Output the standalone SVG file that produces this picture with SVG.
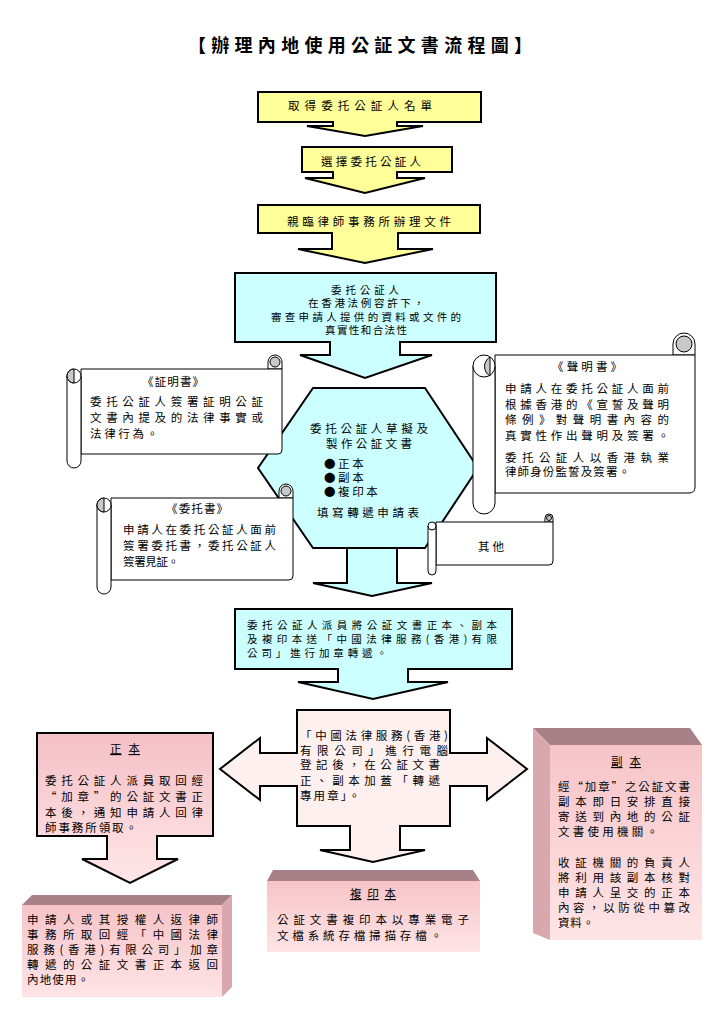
<svg xmlns="http://www.w3.org/2000/svg" width="720" height="1009" viewBox="0 0 720 1009">
<style>
text{font-family:"Noto Sans CJK TC","Noto Sans CJK SC",sans-serif;font-size:11.5px;fill:#000}
.c{text-anchor:middle}
.sm{font-size:10.5px}
.y{fill:#FFFF99;stroke:#000;stroke-width:2}
.b{fill:#CCFFFF;stroke:#000;stroke-width:2}
.p{fill:url(#pg);stroke:#000;stroke-width:2}
.lp{fill:#FFF0F0;stroke:#000;stroke-width:2}
.s{fill:#fff;stroke:#000;stroke-width:1}
.g{fill:#C8C8C8;stroke:#000;stroke-width:1}
.top{fill:#A88088}
.side{fill:#D9A8AE}
.fr{fill:url(#fg)}
.u{text-decoration:underline}
</style>
<defs>
<linearGradient id="pg" x1="0" y1="0" x2="0" y2="1"><stop offset="0" stop-color="#F4C0C6"/><stop offset="1" stop-color="#FFE6E8"/></linearGradient>
<linearGradient id="fg" x1="0" y1="0" x2="0" y2="1"><stop offset="0" stop-color="#F6C4C8"/><stop offset="1" stop-color="#FFE4E6"/></linearGradient>
</defs>
<text x="360" y="52" class="c" style="font-size:18px;font-weight:bold" textLength="344" lengthAdjust="spacing">【辦理內地使用公証文書流程圖】</text>

<g id="connectors">
<path class="b" d="M347,548 V583 H313 L372,596 L432,583 H397 V548"/>
</g>

<g id="n1"><path class="y" d="M258,92 H481 V122 H397 V126 H423 L365,136 L307,126 H333 V122 H258 Z"/>
<text x="360" y="110" class="c" textLength="144" lengthAdjust="spacing">取得委托公証人名單</text></g>
<g id="n2"><path class="y" d="M302,147 H452 V172 H397 V178 H425 L365,193 L305,178 H333 V172 H302 Z"/>
<text x="371" y="166" class="c" textLength="100" lengthAdjust="spacing">選擇委托公証人</text></g>
<g id="n3"><path class="y" d="M258,205 H480 V233 H398 V249 H433 L365,263 L298,249 H332 V233 H258 Z"/>
<text x="369" y="226" class="c" textLength="164" lengthAdjust="spacing">親臨律師事務所辦理文件</text></g>
<g id="n4"><path class="b" d="M235,273 H496 V342 H400 V355 H432 L365,378 L300,355 H330 V342 H235 Z"/>
<text x="365" y="294" class="c sm" textLength="68" lengthAdjust="spacing">委托公証人</text>
<text x="366" y="307" class="c sm" textLength="116" lengthAdjust="spacing">在香港法例容許下，</text>
<text x="366" y="321" class="c sm" textLength="190" lengthAdjust="spacing">審查申請人提供的資料或文件的</text>
<text x="366" y="334" class="c sm" textLength="82" lengthAdjust="spacing">真實性和合法性</text></g>

<g id="n5"><path class="b" d="M313,388 H425 L478,468 L425,548 H313 L258,468 Z"/>
<text x="369" y="433" class="c" textLength="118" lengthAdjust="spacing">委托公証人草擬及</text>
<text x="369" y="448" class="c" textLength="86" lengthAdjust="spacing">製作公証文書</text>
<text x="324" y="468">● 正 本</text>
<text x="324" y="482">● 副 本</text>
<text x="324" y="496">● 複 印 本</text>
<text x="368" y="517" class="c" textLength="102" lengthAdjust="spacing">填寫轉遞申請表</text></g>

<g id="s1">
<path class="s" d="M268,369 V362 A7,7 0 0 1 282,362 V369 Z"/><circle class="g" cx="275" cy="362" r="5"/>
<path class="s" d="M81,369 H282 V450 Q282,454 278,454 H81 Z"/>
<path class="s" d="M67,376 V461 A7,7 0 0 0 81,461 V376 Z"/><circle class="s" cx="74" cy="376" r="7"/><path class="g" d="M74,369 A7,7 0 0 0 74,383 Z"/>
<text x="173" y="386" class="c" textLength="62" lengthAdjust="spacing">《証明書》</text>
<text x="90" y="406" textLength="173" lengthAdjust="spacing">委托公証人簽署証明公証</text>
<text x="90" y="422" textLength="173" lengthAdjust="spacing">文書內提及的法律事實或</text>
<text x="90" y="438" textLength="68" lengthAdjust="spacing">法律行為。</text></g>

<g id="s2">
<path class="s" d="M279,498 V491 A7,7 0 0 1 293,491 V498 Z"/><circle class="g" cx="286" cy="491" r="5"/>
<path class="s" d="M111,498 H293 V576 Q293,580 289,580 H111 Z"/>
<path class="s" d="M97,505 V587 A7,7 0 0 0 111,587 V505 Z"/><circle class="s" cx="104" cy="505" r="7"/><path class="g" d="M104,498 A7,7 0 0 0 104,512 Z"/>
<text x="197" y="513" class="c" textLength="62" lengthAdjust="spacing">《委托書》</text>
<text x="123" y="534" textLength="153" lengthAdjust="spacing">申請人在委托公証人面前</text>
<text x="123" y="550" textLength="153" lengthAdjust="spacing">簽署委托書，委托公証人</text>
<text x="123" y="566" textLength="56" lengthAdjust="spacing">簽署見証。</text></g>

<g id="s3">
<path class="s" d="M673,355 V344 A11,11 0 0 1 695,344 V355 Z"/><circle class="g" cx="684" cy="344" r="8"/>
<path class="s" d="M495,355 H695 V487 Q695,493 689,493 H495 Z"/>
<path class="s" d="M473,366 V503 A11,11 0 0 0 495,503 V366 Z"/><circle class="s" cx="484" cy="366" r="11"/><path class="g" d="M490,357 A11,11 0 0 0 490,376 Z"/>
<text x="587" y="371" class="c" textLength="70" lengthAdjust="spacing">《聲明書》</text>
<text x="505" y="393" textLength="164" lengthAdjust="spacing">申請人在委托公証人面前</text>
<text x="505" y="409" textLength="164" lengthAdjust="spacing">根據香港的《宣誓及聲明</text>
<text x="505" y="424" textLength="164" lengthAdjust="spacing">條例》對聲明書內容的</text>
<text x="505" y="440" textLength="164" lengthAdjust="spacing">真實性作出聲明及簽署。</text>
<text x="505" y="462" textLength="164" lengthAdjust="spacing">委托公証人以香港執業</text>
<text x="505" y="476" textLength="125" lengthAdjust="spacing">律師身份監誓及簽署。</text></g>

<g id="s4">
<path class="s" d="M545,522 V518 A4,4 0 0 1 553,518 V522 Z"/><circle class="g" cx="549" cy="518" r="2.5"/>
<path class="s" d="M436,522 H553 V561 Q553,565 549,565 H436 Z"/>
<path class="s" d="M428,526 V571 A4,4 0 0 0 436,571 V526 Z"/><circle class="s" cx="432" cy="526" r="4"/>
<text x="478" y="551" textLength="26" lengthAdjust="spacing">其他</text></g>

<g id="n6"><path class="b" d="M235,609 H512 V669 H408 V682 H448 L373,699 L298,682 H338 V669 H235 Z"/>
<text x="247" y="629" class="sm" textLength="250" lengthAdjust="spacing">委托公証人派員將公証文書正本、副本</text>
<text x="247" y="643" class="sm" textLength="250" lengthAdjust="spacing">及複印本送「中國法律服務(香港)有限</text>
<text x="247" y="657" class="sm" textLength="140" lengthAdjust="spacing">公司」進行加章轉遞。</text></g>

<g id="n7"><path class="lp" d="M297,710 H450 V753 H487 V738 L527,769 L487,800 V786 H450 V826 H400 V850 H425 L373,862 L320,850 H350 V826 H297 V786 H260 V800 L220,769 L260,738 V753 H297 Z"/>
<text x="300" y="740" textLength="148" lengthAdjust="spacing">「中國法律服務(香港)</text>
<text x="300" y="755" textLength="148" lengthAdjust="spacing">有限公司」進行電腦</text>
<text x="300" y="769" textLength="140" lengthAdjust="spacing">登記後，在公証文書</text>
<text x="300" y="785" textLength="140" lengthAdjust="spacing">正、副本加蓋「轉遞</text>
<text x="300" y="800" textLength="60" lengthAdjust="spacing">專用章」。</text></g>

<g id="n8"><path class="p" d="M37,733 H213 V836 H157 V859 H178 L130,883 L82,859 H107 V836 H37 Z"/>
<text x="125" y="753" class="c u" textLength="30" lengthAdjust="spacing">正本</text>
<text x="45" y="785" textLength="158" lengthAdjust="spacing">委托公証人派員取回經</text>
<text x="45" y="801" textLength="158" lengthAdjust="spacing">“加章”的公証文書正</text>
<text x="45" y="817" textLength="158" lengthAdjust="spacing">本後，通知申請人回律</text>
<text x="45" y="832" textLength="92" lengthAdjust="spacing">師事務所領取。</text></g>

<g id="n9"><polygon class="top" points="32,895 232,895 222,905 22,905"/><polygon class="side" points="222,905 232,895 232,987 222,997"/><rect class="fr" x="22" y="905" width="200" height="92"/>
<text x="27" y="924" textLength="191" lengthAdjust="spacing">申請人或其授權人返律師</text>
<text x="27" y="939" textLength="191" lengthAdjust="spacing">事務所取回經「中國法律</text>
<text x="27" y="954" textLength="191" lengthAdjust="spacing">服務(香港)有限公司」加章</text>
<text x="27" y="969" textLength="191" lengthAdjust="spacing">轉遞的公証文書正本返回</text>
<text x="27" y="984" textLength="62" lengthAdjust="spacing">內地使用。</text></g>

<g id="n10"><polygon class="top" points="273,870 473,870 480,881 267,881"/><rect class="fr" x="267" y="881" width="213" height="71"/>
<text x="373" y="898" class="c u" textLength="46" lengthAdjust="spacing">複印本</text>
<text x="277" y="924" textLength="192" lengthAdjust="spacing">公証文書複印本以專業電子</text>
<text x="277" y="940" textLength="165" lengthAdjust="spacing">文檔系統存檔掃描存檔。</text></g>

<g id="n11"><polygon class="top" points="533,728 690,728 702,745 550,745"/><polygon class="side" points="533,728 550,745 550,940 533,933"/><rect class="fr" x="550" y="745" width="152" height="195"/>
<text x="626" y="766" class="c u" textLength="30" lengthAdjust="spacing">副本</text>
<text x="558" y="791" textLength="132" lengthAdjust="spacing">經“加章”之公証文書</text>
<text x="558" y="806" textLength="132" lengthAdjust="spacing">副本即日安排直接</text>
<text x="558" y="821" textLength="132" lengthAdjust="spacing">寄送到內地的公証</text>
<text x="558" y="836" textLength="100" lengthAdjust="spacing">文書使用機關。</text>
<text x="558" y="867" textLength="132" lengthAdjust="spacing">收証機關的負責人</text>
<text x="558" y="882" textLength="132" lengthAdjust="spacing">將利用該副本核對</text>
<text x="558" y="897" textLength="132" lengthAdjust="spacing">申請人呈交的正本</text>
<text x="558" y="912" textLength="132" lengthAdjust="spacing">內容，以防從中篡改</text>
<text x="558" y="927" textLength="36" lengthAdjust="spacing">資料。</text></g>
</svg>
